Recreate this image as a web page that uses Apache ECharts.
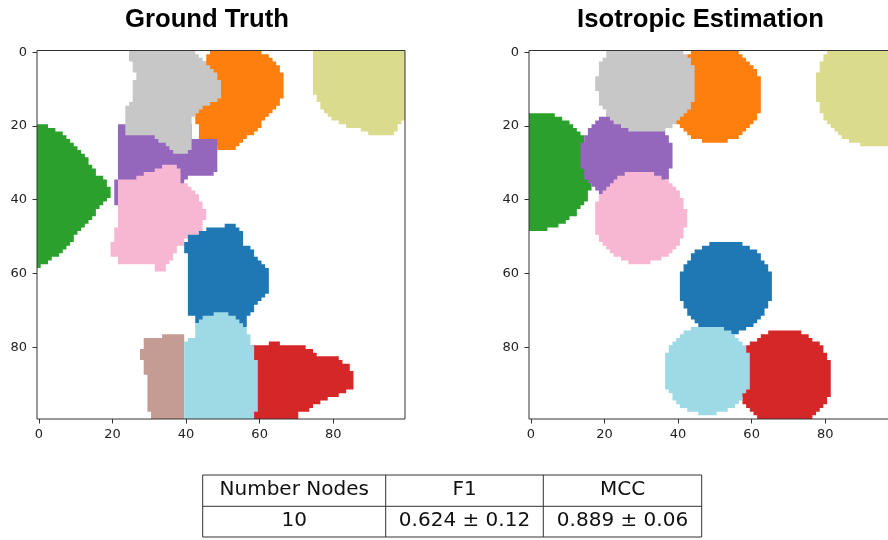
<!DOCTYPE html>
<html><head><meta charset="utf-8">
<script src="https://cdn.jsdelivr.net/npm/echarts@6/dist/echarts.min.js"></script>
<style>html,body{margin:0;padding:0;background:#fff}#c{width:888px;height:540px}</style>
</head><body><div id="c"></div>
<script>
// ---- tick labels / image size ----
const TICKS = [0, 20, 40, 60, 80];
const EXTENT = [-0.5, 99.5];
const N_PIX = 100;

// ---- Ground truth regions (outline vertices in image coordinates: [column, row]) ----
const GT_ORANGE = [[47.5,-0.5],[60,-0.5],[62.4,1],[63.3,2],[64.6,3.5],[66.4,5.5],[66.4,12],[65.5,13],[65.5,14.5],[64.4,15.5],[62.4,17.5],[60.5,19.3],[59.6,21],[56.5,23],[55.6,24],[53.3,26.3],[48.7,26.3],[47,24],[43.4,23],[43.4,19.3],[42.4,19],[42.4,15.5],[45,12],[45,3],[46,1]];
const GT_PURPLE = [[21.6,19.3],[41.5,19.3],[41.5,23.3],[48.3,23.3],[48.3,31.9],[47,33.3],[44,33.6],[41,34],[39.1,35.5],[39.1,38],[30,38],[22,41.4],[20.5,41.4],[20.5,34.6],[21.6,34.6]];
const GT_GRAY = [[24.3,-0.5],[42.4,-0.5],[43.8,1.5],[45.2,3],[47.4,5],[49.4,7.5],[49.4,12.4],[47.4,13.8],[44,15.5],[42.4,16.5],[41.5,19],[41.5,25.9],[40.3,27.4],[37.5,27.4],[34.7,25.5],[31.6,23],[23.4,22.4],[23.7,15],[25.7,13.4],[26.1,5.7],[25.3,3.5],[24.3,1.5]];
const GT_PINK = [[21.3,35.1],[26.6,34],[31.6,31.8],[34.3,30.3],[36.2,30.3],[38.8,31.5],[38.8,35.1],[41.5,36.5],[43.3,39],[44.3,41.4],[45.6,43],[45.6,45.5],[44.3,46.5],[44.3,49],[42,50],[39.3,50.5],[39.3,52],[37.5,53],[36.5,55.5],[35.2,57.2],[34.3,59.1],[31.6,59.1],[31.6,57.2],[21.2,57.2],[21.2,56],[19.3,55.5],[19.3,51.4],[20.7,51],[20.7,48.2],[21.3,47]];
const GT_GREEN = [[-0.5,19.5],[2.1,19.5],[6.2,22],[9.8,25.6],[13.2,29.2],[15.7,32.8],[18.3,34.6],[19.3,37],[19.3,39.5],[16.6,41.9],[13.9,45.5],[11,48.6],[8.5,51.8],[6.2,54.5],[2.1,57.2],[-0.5,58.5]];
const GT_BLUE = [[50.6,46.4],[52.4,46.4],[54.2,47.5],[55.6,49],[55.6,51.8],[57.8,53.6],[58.7,55],[60.1,56.5],[61.3,57.5],[62.4,59.5],[62.4,65.4],[60.1,67.2],[58.3,68.6],[58.3,70],[57.4,71.3],[56.5,72.1],[56.5,74.5],[44.3,74.5],[44.3,73.1],[42.4,73.1],[42.4,71.3],[40.5,71.3],[40.5,55],[39.4,55],[39.4,52.3],[40.6,50],[43.8,48.7],[46.5,47.5],[50.6,47.5]];
const GT_RED = [[58,79.4],[62.4,79.4],[62.4,78.3],[65.5,78.3],[65.5,79.4],[70.5,79.4],[73.7,80.3],[75,81.5],[76.4,82.6],[80.5,82.6],[82.3,83.5],[83.7,84.5],[84.6,85.5],[85.5,86.7],[85.5,90.3],[84.6,91.6],[82.6,92.5],[80.5,93.3],[77.5,94.5],[75.3,95.6],[73.7,97.1],[71,98],[70.5,99.5],[58,99.5]];
const GT_BROWN = [[27.5,80.3],[28.4,80.3],[28.4,78],[29.3,77.3],[33.4,77.3],[33.4,76.4],[39.5,76.4],[39.5,99.5],[30.7,99.5],[30.7,97.5],[29.3,97.5],[29.3,88],[28.4,88],[28.4,84],[27.5,84]];
const GT_LIGHTBLUE = [[42.4,77.2],[42.4,74.5],[43.8,72.5],[46.5,71.3],[50.1,70.4],[52.8,71.8],[54.7,73.3],[56.2,74.5],[56.5,76.3],[57.4,76.3],[57.4,79.4],[58.5,79.4],[58.5,83.5],[59.6,83.5],[59.6,97.5],[58.5,97.5],[58.5,99.5],[39.4,99.5],[39.4,79],[40.6,77.2]];
const GT_OLIVE = [[74.4,-0.5],[99.5,-0.5],[99.5,18.5],[98,19.5],[97.7,21],[96.4,21.3],[96.4,22.4],[89.5,22.4],[89.5,21.5],[85.5,20.6],[82.3,19.5],[79.6,18.4],[78.7,17.3],[77.5,16.1],[76.4,14.5],[75.5,12.5],[74.4,9.3]];
const GT_NAMES = ['orange','purple','gray','pink','green','blue','red','brown','lightblue','olive'];
const GT_REGIONS = [GT_ORANGE, GT_PURPLE, GT_GRAY, GT_PINK, GT_GREEN, GT_BLUE, GT_RED, GT_BROWN, GT_LIGHTBLUE, GT_OLIVE];

// ---- Isotropic estimation: circle centre (column,row) and radius ----
const IE_NAMES = ['orange','olive','green','purple','gray','pink','blue','red','lightblue'];
const IE_CX = [50, 93.5, 0.8, 26, 31.3, 29.8, 53, 69, 48];
const IE_CY = [11.5, 9.5, 32.3, 28.3, 8.5, 44.9, 63.75, 88.3, 86.3];
const IE_R  = [13, 16, 16.2, 12.5, 13.5, 12.5, 12.65, 13, 12];

// ---- table ----
const TABLE_HEADER = ['Number Nodes', 'F1', 'MCC'];
const TABLE_ROW = ['10', '0.624 \u00b1 0.12', '0.889 \u00b1 0.06'];
const TITLES = ['Ground Truth', 'Isotropic Estimation'];

// ---- styles ----
const COLORS = {
  blue:'#1f77b4', orange:'#ff7f0e', green:'#2ca02c', red:'#d62728', purple:'#9467bd',
  gray:'#c7c7c7', pink:'#f7b6d2', brown:'#c49c94', lightblue:'#9edae5', olive:'#dbdb8d'
};

const chart = echarts.init(document.getElementById('c'), null, {renderer:'canvas'});

function axisX(gi){
  return {
    gridIndex: gi, type:'value', min:EXTENT[0], max:EXTENT[1],
    axisLine:{show:false, onZero:false}, splitLine:{show:false},
    axisTick:{show:true, length:4.5, customValues:TICKS, lineStyle:{color:'#333', width:1}},
    axisLabel:{customValues:TICKS, fontSize:13, color:'#222', fontFamily:'DejaVu Sans', margin:9}
  };
}
function axisY(gi){
  return {
    gridIndex: gi, type:'value', min:EXTENT[0], max:EXTENT[1], inverse:true,
    axisLine:{show:false, onZero:false}, splitLine:{show:false},
    axisTick:{show:true, length:4.5, customValues:TICKS, lineStyle:{color:'#333', width:1}},
    axisLabel:{customValues:TICKS, fontSize:13, color:'#222', fontFamily:'DejaVu Sans', margin:10}
  };
}

// point-in-polygon (ray casting)
function inPoly(x, y, poly){
  let c = false;
  for (let a = 0, b = poly.length - 1; a < poly.length; b = a++) {
    const xa = poly[a][0], ya = poly[a][1], xb = poly[b][0], yb = poly[b][1];
    if (((ya > y) !== (yb > y)) && (x < (xb - xa) * (y - ya) / (yb - ya) + xa)) c = !c;
  }
  return c;
}
// rasterise a region onto the image pixel grid, as one path of row runs (through the axis scales)
function pixelPath(test, api){
  let d = '';
  for (let j = 0; j < N_PIX; j++) {
    let i = 0;
    while (i < N_PIX) {
      if (!test(i, j)) { i++; continue; }
      let k = i;
      while (k + 1 < N_PIX && test(k + 1, j)) k++;
      const p0 = api.coord([i - 0.5, j - 0.5]);
      const p1 = api.coord([k + 0.5, j + 0.5]);
      const x0 = Math.min(p0[0], p1[0]), x1 = Math.max(p0[0], p1[0]);
      const y0 = Math.min(p0[1], p1[1]), y1 = Math.max(p0[1], p1[1]);
      d += 'M' + x0.toFixed(2) + ' ' + y0.toFixed(2) + 'L' + x1.toFixed(2) + ' ' + y0.toFixed(2) +
           'L' + x1.toFixed(2) + ' ' + y1.toFixed(2) + 'L' + x0.toFixed(2) + ' ' + y1.toFixed(2) + 'Z';
      i = k + 1;
    }
  }
  return d;
}

// table graphics
const TX = [202.7, 385.7, 543.3, 701.7];
const TY = [475, 506.3, 537];
const graphics = [];
graphics.push({type:'rect', z:100, shape:{x:TX[0], y:TY[0], width:TX[3]-TX[0], height:TY[2]-TY[0]}, style:{fill:'none', stroke:'#333', lineWidth:1}});
graphics.push({type:'line', z:100, shape:{x1:TX[0], y1:TY[1], x2:TX[3], y2:TY[1]}, style:{stroke:'#333', lineWidth:1}});
graphics.push({type:'line', z:100, shape:{x1:TX[1], y1:TY[0], x2:TX[1], y2:TY[2]}, style:{stroke:'#333', lineWidth:1}});
graphics.push({type:'line', z:100, shape:{x1:TX[2], y1:TY[0], x2:TX[2], y2:TY[2]}, style:{stroke:'#333', lineWidth:1}});
for (let i = 0; i < 3; i++) {
  const cx = (TX[i] + TX[i+1]) / 2;
  graphics.push({type:'text', z:100, style:{text:TABLE_HEADER[i], x:cx, y:489.5, align:'center', verticalAlign:'middle', textAlign:'center', textVerticalAlign:'middle', font:'20px "DejaVu Sans"', fill:'#111'}});
  graphics.push({type:'text', z:100, style:{text:TABLE_ROW[i], x:cx, y:521.2, align:'center', verticalAlign:'middle', textAlign:'center', textVerticalAlign:'middle', font:'20px "DejaVu Sans"', fill:'#111'}});
}

const titleStyle = {fontFamily:'Liberation Sans', fontWeight:'bold', fontSize:25.7, color:'#000'};
const option = {
  backgroundColor:'#fff',
  animation:false,
  title:[
    {text:TITLES[0], left:207, top:6.5, padding:0, textAlign:'center', textStyle:titleStyle},
    {text:TITLES[1], left:700.5, top:6.5, padding:0, textAlign:'center', textStyle:titleStyle}
  ],
  grid:[
    {left:37, top:50.5, width:368, height:368.5, outerBoundsMode:'none', containLabel:false, show:true, z:10, backgroundColor:'transparent', borderColor:'#333', borderWidth:1},
    {left:529, top:50.5, width:368, height:368.5, outerBoundsMode:'none', containLabel:false, show:true, z:10, backgroundColor:'transparent', borderColor:'#333', borderWidth:1}
  ],
  xAxis:[axisX(0), axisX(1)],
  yAxis:[axisY(0), axisY(1)],
  series:[
    {
      type:'custom', name:'Ground Truth', xAxisIndex:0, yAxisIndex:0, silent:true,
      data: GT_REGIONS.map(r => r[0]),
      renderItem: function(params, api){
        const poly = GT_REGIONS[params.dataIndex];
        return {type:'path', shape:{pathData: pixelPath((i, j) => inPoly(i, j, poly), api)},
                style:{fill: COLORS[GT_NAMES[params.dataIndex]], stroke:null}};
      }
    },
    {
      type:'custom', name:'Isotropic Estimation', xAxisIndex:1, yAxisIndex:1, silent:true,
      data: IE_CX.map((x, i) => [x, IE_CY[i], IE_R[i]]),
      encode:{x:0, y:1},
      renderItem: function(params, api){
        const cx = api.value(0), cy = api.value(1), r = api.value(2);
        const test = (i, j) => (i - cx) * (i - cx) + (j - cy) * (j - cy) <= r * r;
        return {type:'path', shape:{pathData: pixelPath(test, api)},
                style:{fill: COLORS[IE_NAMES[params.dataIndex]], stroke:null}};
      }
    }
  ],
  graphic: graphics
};
chart.setOption(option);
</script>
</body></html>
